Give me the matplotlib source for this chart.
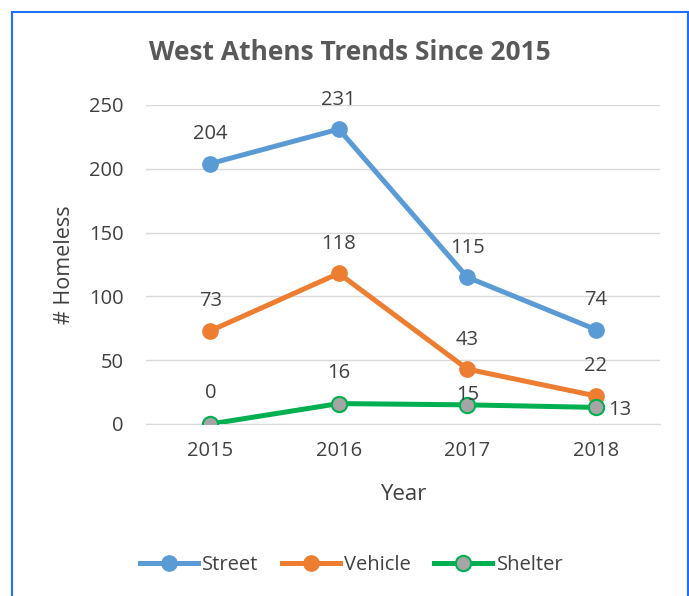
import matplotlib.pyplot as plt
from matplotlib.patches import Rectangle

years = ['2015', '2016', '2017', '2018']
street = [204, 231, 115, 74]
vehicle = [73, 118, 43, 22]
shelter = [0, 16, 15, 13]

plt.rcParams['font.family'] = ['Open Sans', 'DejaVu Sans']
txt = '#404040'
fs = 14.5

fig = plt.figure(figsize=(6.89, 5.96), dpi=100)
ax = fig.add_axes([0.212, 0.2886, 0.746, 0.5354])

x = range(len(years))
ax.plot(x, street, color='#5B9BD5', lw=3.6, marker='o', ms=11, label='Street', zorder=3)
ax.plot(x, vehicle, color='#ED7D31', lw=3.6, marker='o', ms=11, label='Vehicle', zorder=3)
ax.plot(x, shelter, color='#00B050', lw=3.6, marker='o', ms=11, mfc='#A5A5A5',
        mec='#00B050', mew=1.5, label='Shelter', zorder=3)

for i, v in enumerate(street):
    ax.annotate(str(v), (i, v), xytext=(0, 14), textcoords='offset points',
                ha='center', va='bottom', fontsize=fs, color=txt)
for i, v in enumerate(vehicle):
    ax.annotate(str(v), (i, v), xytext=(0, 14), textcoords='offset points',
                ha='center', va='bottom', fontsize=fs, color=txt)
for i, v in enumerate(shelter):
    if i == 3:
        ax.annotate(str(v), (i, v), xytext=(9, -2), textcoords='offset points',
                    ha='left', va='center', fontsize=fs, color=txt)
    else:
        off = 15 if i < 2 else 0
        ax.annotate(str(v), (i, v), xytext=(0, off), textcoords='offset points',
                    ha='center', va='bottom', fontsize=fs, color=txt)

ax.set_xlim(-0.5, 3.5)
ax.set_ylim(0, 250)
ax.set_yticks(range(0, 251, 50))
ax.set_xticks(list(x))
ax.set_xticklabels(years)
ax.grid(axis='y', color='#D9D9D9', lw=1)
ax.set_axisbelow(True)
for s in ['top', 'right', 'left']:
    ax.spines[s].set_visible(False)
ax.spines['bottom'].set_color('#D9D9D9')
ax.tick_params(length=0, labelsize=fs, colors=txt)
ax.tick_params(axis='x', pad=12)
ax.tick_params(axis='y', pad=16)
ax.set_xlabel('Year', fontsize=16, color=txt, labelpad=17)
ax.set_ylabel('# Homeless', fontsize=15.5, color=txt, labelpad=10)

fig.text(0.508, 0.912, 'West Athens Trends Since 2015', ha='center', va='center',
         fontsize=19, fontweight='bold', color='#595959')

fig.legend(loc='center', bbox_to_anchor=(0.51, 0.052), ncol=3, frameon=False,
           fontsize=fs, handlelength=2.9, columnspacing=1.15, handletextpad=0.2,
           labelcolor=txt)

fig.patches.append(Rectangle((12 / 689, -0.1), 676 / 689, 1.1 - 12 / 596,
                             transform=fig.transFigure, fill=False,
                             edgecolor='#1F6FFF', lw=1.5))

fig.savefig('out.png', dpi=100)
